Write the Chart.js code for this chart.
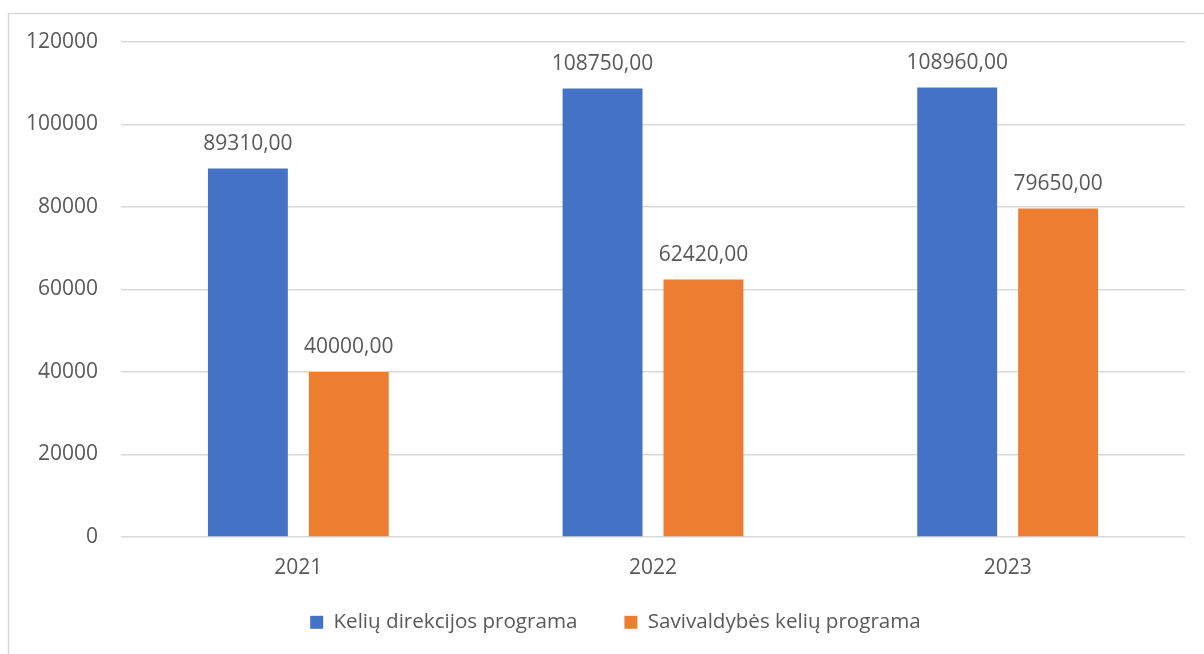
<!DOCTYPE html>
<html>
<head>
<meta charset="utf-8">
<script src="https://cdn.jsdelivr.net/npm/chart.js@4"></script>
<style>
html,body{margin:0;padding:0;background:#fff;}
#wrap{position:absolute;left:0;top:0;width:1204px;height:654px;}
</style>
</head>
<body>
<div id="wrap"><canvas id="c" width="1204" height="654"></canvas></div>
<script>
const categories = ["2021", "2022", "2023"];
const seriesNames = ["Kelių direkcijos programa", "Savivaldybės kelių programa"];
const keliuDirekcija = [89310, 108750, 108960];
const savivaldybe = [40000, 62420, 79650];
const yTicks = [0, 20000, 40000, 60000, 80000, 100000, 120000];

const FONT = "'Open Sans', 'Noto Sans', sans-serif";
const TEXT = "#595959";
const FS = 21;

const frame = {
  id: 'frame',
  beforeDraw(chart) {
    const ctx = chart.ctx;
    ctx.save();
    ctx.strokeStyle = '#d9d9d9';
    ctx.lineWidth = 1.5;
    ctx.beginPath();
    ctx.moveTo(8.5, 700);
    ctx.lineTo(8.5, 13.5);
    ctx.lineTo(1204, 13.5);
    ctx.stroke();
    ctx.restore();
  }
};

const legendFix = {
  id: 'legendFix',
  afterInit(chart) {
    const lg = chart.legend;
    if (!lg) return;
    const orig = lg.fit;
    lg.fit = function () { orig.call(this); this.height = 20; };
  },
  afterUpdate(chart) {
    const lg = chart.legend;
    if (!lg) return;
    lg.left += 26;
    lg.top = 565;
    lg.bottom = 654;
    lg.height = lg.bottom - lg.top;
    lg.adjustHitBoxes();
  }
};

const labels = {
  id: 'labels',
  afterDatasetsDraw(chart) {
    const ctx = chart.ctx;
    ctx.save();
    ctx.font = FS + "px " + FONT;
    ctx.fillStyle = TEXT;
    ctx.textAlign = 'center';
    ctx.textBaseline = 'bottom';
    chart.data.datasets.forEach((ds, i) => {
      chart.getDatasetMeta(i).data.forEach((el, j) => {
        const t = ds.data[j].toFixed(2).replace('.', ',');
        ctx.fillText(t, el.x, el.y - 14);
      });
    });
    ctx.restore();
  }
};

new Chart(document.getElementById('c'), {
  type: 'bar',
  data: {
    labels: categories,
    datasets: [
      { label: seriesNames[0], data: keliuDirekcija, backgroundColor: '#4472C4', categoryPercentage: 0.569, barPercentage: 0.792 },
      { label: seriesNames[1], data: savivaldybe, backgroundColor: '#ED7D31', categoryPercentage: 0.569, barPercentage: 0.792 }
    ]
  },
  options: {
    responsive: false,
    animation: false,
    devicePixelRatio: 1,
    layout: { padding: { left: 20, right: 19, top: 42, bottom: 52 } },
    plugins: {
      legend: {
        position: 'bottom',
        labels: {
          font: { family: FONT, size: 20.6 },
          color: TEXT,
          boxWidth: 13,
          boxHeight: 13,
          padding: 47
        }
      },
      tooltip: { enabled: false }
    },
    scales: {
      x: {
        afterFit(scale) { scale.height = 45; },
        grid: { display: false, drawTicks: false },
        border: { display: false },
        ticks: { font: { family: FONT, size: FS }, color: TEXT, padding: 18 }
      },
      y: {
        min: 0, max: 120000,
        afterBuildTicks(scale) { scale.ticks = yTicks.map(v => ({ value: v })); },
        afterFit(scale) { scale.width = 101; },
        grid: { color: '#d9d9d9', lineWidth: 1.5, drawTicks: false },
        border: { display: false },
        ticks: { font: { family: FONT, size: FS }, color: TEXT, padding: 23, callback: v => String(v) }
      }
    }
  },
  plugins: [frame, legendFix, labels]
});
</script>
</body>
</html>
